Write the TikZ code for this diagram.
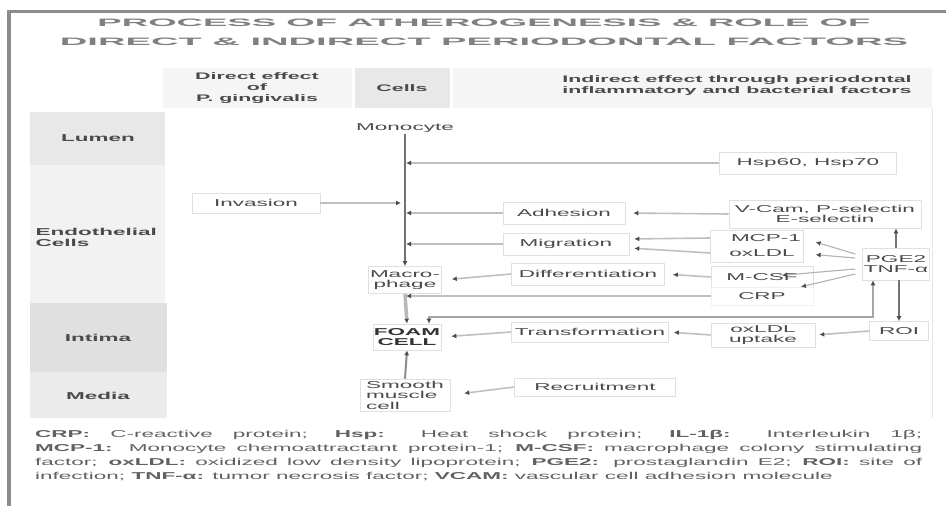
\documentclass[tikz,border=0pt]{standalone}
\usepackage{fontspec}
\setmainfont{Liberation Sans}[FakeStretch=2.25]
\usepackage{graphicx}
\usetikzlibrary{arrows.meta}
\definecolor{txt}{HTML}{4A4A4A}
\definecolor{frame}{HTML}{8C8C8C}
\tikzset{
  lbl/.style={font=\fontsize{10}{10.5}\selectfont, text=txt, inner sep=1pt},
  box/.style={lbl, draw=black!12, fill=white, line width=0.6pt},
  hdr/.style={font=\bfseries\fontsize{9.5}{11}\selectfont, text=txt, align=center},
  rowlbl/.style={font=\bfseries\fontsize{10}{11}\selectfont, text=txt},
  tip/.tip={Latex[length=5pt,width=5pt,color=black!70]},
  arr/.style={draw=black!25, line width=1.6pt, -tip},
  thin/.style={draw=black!30, line width=1.1pt, -tip},
  dark/.style={draw=black!55, line width=2pt, -tip},
}
\begin{document}
\begin{tikzpicture}[x=1pt,y=-1pt]
\useasboundingbox (0,0) rectangle (946,506);
\fill[white] (0,0) rectangle (946,506);
% frame
\fill[frame] (7,10) rectangle (946,13);
\fill[frame] (7,10) rectangle (11,506);
% title
\node[text=black!50] (t1) at (484,23) {\resizebox{773pt}{7.5pt}{\bfseries PROCESS OF ATHEROGENESIS \& ROLE OF}};
\node[text=black!50] (t2) at (484,42) {\resizebox{848pt}{7.5pt}{\bfseries DIRECT \& INDIRECT PERIODONTAL FACTORS}};
% header row
\fill[black!4] (163,68) rectangle (352,108);
\fill[black!9] (355,68) rectangle (450,108);
\fill[black!4] (453,68) rectangle (932,108);
\node[hdr] (h1) at (257,88) {Direct effect\\of\\P. gingivalis};
\node[hdr] (h2) at (402,88) {Cells};
\node[hdr] (h3) at (737,86) {Indirect effect through periodontal\\inflammatory and bacterial factors};
\draw[black!10] (932,108) -- (932,418);
% row labels
\fill[black!9] (30,112) rectangle (165,165);
\fill[black!5] (30,165) rectangle (165,303);
\fill[black!12] (30,303) rectangle (167,372);
\fill[black!8] (30,372) rectangle (167,418);
\node[rowlbl] (lumen) at (98,138) {Lumen};
\node[rowlbl, align=left, anchor=west] (endo) at (32,237) {Endothelial\\Cells};
\node[rowlbl] (intima) at (98,338) {Intima};
\node[rowlbl] (media) at (98,396) {Media};
% cells column
\node[lbl] (mono) at (405,128) {Monocyte};
\node[box, align=center, minimum width=73pt, minimum height=27pt] (macro) at (405,280) {Macro-\\phage};
\node[box, align=center, minimum width=65pt, minimum height=26pt, font=\bfseries\fontsize{10}{10.5}\selectfont, text=black!80] (foam) at (407,337) {FOAM\\CELL};
\node[box, align=left, minimum width=90pt, minimum height=32pt] (smc) at (405,395) {Smooth\\muscle\\cell};
% direct
\node[box, minimum width=128pt, minimum height=20pt] (inv) at (256,203) {Invasion};
% middle
\node[box, minimum width=122pt, minimum height=22pt] (adh) at (564,213) {Adhesion};
\node[box, minimum width=126pt, minimum height=22pt] (mig) at (566,244) {Migration};
\node[box, minimum width=153pt, minimum height=22pt] (diff) at (588,274) {Differentiation};
\node[box, minimum width=157pt, minimum height=20pt] (trans) at (590,332) {Transformation};
\node[box, minimum width=161pt, minimum height=18pt] (rec) at (595,387) {Recruitment};
% right
\node[box, minimum width=177pt, minimum height=22pt] (hsp) at (808,163) {Hsp60, Hsp70};
\node[box, align=center, minimum width=192pt, minimum height=28pt] (vcam) at (825,214) {V-Cam, P-selectin\\E-selectin};
\node[box, minimum width=93pt, minimum height=32pt] (grp) at (757,246) {};
\node[lbl] (mcp) at (766,238) {MCP-1};
\node[lbl] (oxl) at (762,253) {oxLDL};
\node[box, minimum width=102pt, minimum height=21pt] (mcsf) at (762,277) {M-CSF};
\node[box, draw=black!6, minimum width=102pt, minimum height=18pt] (crp) at (762,296) {CRP};
\node[box, align=center, minimum width=104pt, minimum height=24pt] (upt) at (763,335) {oxLDL\\uptake};
\node[box, align=center, minimum width=67pt, minimum height=32pt] (pge) at (896,264) {PGE2\\TNF-α};
\node[box, minimum width=59pt, minimum height=19pt] (roi) at (899,331) {ROI};
% connectors to the monocyte line
\draw[dark] (mono.south) -- (macro.north);
\draw[arr, shorten >=1pt] (hsp.west) -- (hsp.west -| mono.center);
\draw[arr, shorten >=4pt] (inv.east) -- (inv.east -| mono.center);
\draw[arr, shorten >=1pt] (adh.west) -- (adh.west -| mono.center);
\draw[arr, shorten >=1pt] (mig.west) -- (mig.west -| mono.center);
\draw[arr, shorten >=8pt] (vcam.west) -- (adh.east);
\draw[arr, shorten >=5pt] (grp.west |- mcp) -- ([yshift=5pt]mig.east);
\draw[arr, shorten >=5pt] ([yshift=-7pt]grp.west) -- ([yshift=-4pt]mig.east);
\draw[arr, shorten >=8pt] (mcsf.west) -- (diff.east);
\draw[arr, shorten >=10pt] (diff.west) -- (macro.east);
\draw[arr, shorten >=1pt] (crp.west) -- (crp.west -| mono.center);
\draw[draw=black!28, line width=3.5pt, -tip] (macro.south) -- (foam.north);
\draw[arr, shorten >=10pt] (trans.west) -- (foam.east);
\draw[arr, shorten >=5pt] (upt.west) -- (trans.east);
\draw[arr, shorten >=4pt] (roi.west) -- (upt.east);
\draw[draw=black!45, line width=2pt, -tip] (smc.north) -- (foam.south);
\draw[arr, shorten >=14pt] (rec.west) -- (smc.east);
% PGE2 links
\coordinate (pg) at ([xshift=-7pt]pge.west);
\draw[thin, shorten >=14pt] ([yshift=10pt]pg) -- (mcp.east);
\draw[thin, shorten >=20pt] ([yshift=6pt]pg) -- (oxl.east);
\draw[thin, shorten >=20pt] ([yshift=-5pt]pg) -- (mcsf.center);
\draw[thin, shorten >=40pt] ([yshift=-10pt]pg) -- (crp.center);
\draw[dark] (pge.north) -- (pge.north |- vcam.south);
\draw[dark] ([xshift=3pt]pge.south) -- ([xshift=3pt]pge.south |- roi.north);
\draw[draw=black!35, line width=1.8pt, tip-tip] ([xshift=-23pt]pge.south) -- ++(0,37) -| ([xshift=22pt]foam.north);
% footnote
\node[anchor=north west, text width=887pt, align=justify, inner sep=0pt, text=black!62,
      font=\fontsize{10}{14}\selectfont] (fn) at (35,430)
{\textbf{CRP:} C-reactive protein; \textbf{Hsp:} Heat shock protein; \textbf{IL-1β:} Interleukin 1β;\linebreak
\textbf{MCP-1:} Monocyte chemoattractant protein-1; \textbf{M-CSF:} macrophage colony stimulating\linebreak
factor; \textbf{oxLDL:} oxidized low density lipoprotein; \textbf{PGE2:} prostaglandin E2; \textbf{ROI:} site of\linebreak
infection; \textbf{TNF-α:} tumor necrosis factor; \textbf{VCAM:} vascular cell adhesion molecule};
\end{tikzpicture}
\end{document}
